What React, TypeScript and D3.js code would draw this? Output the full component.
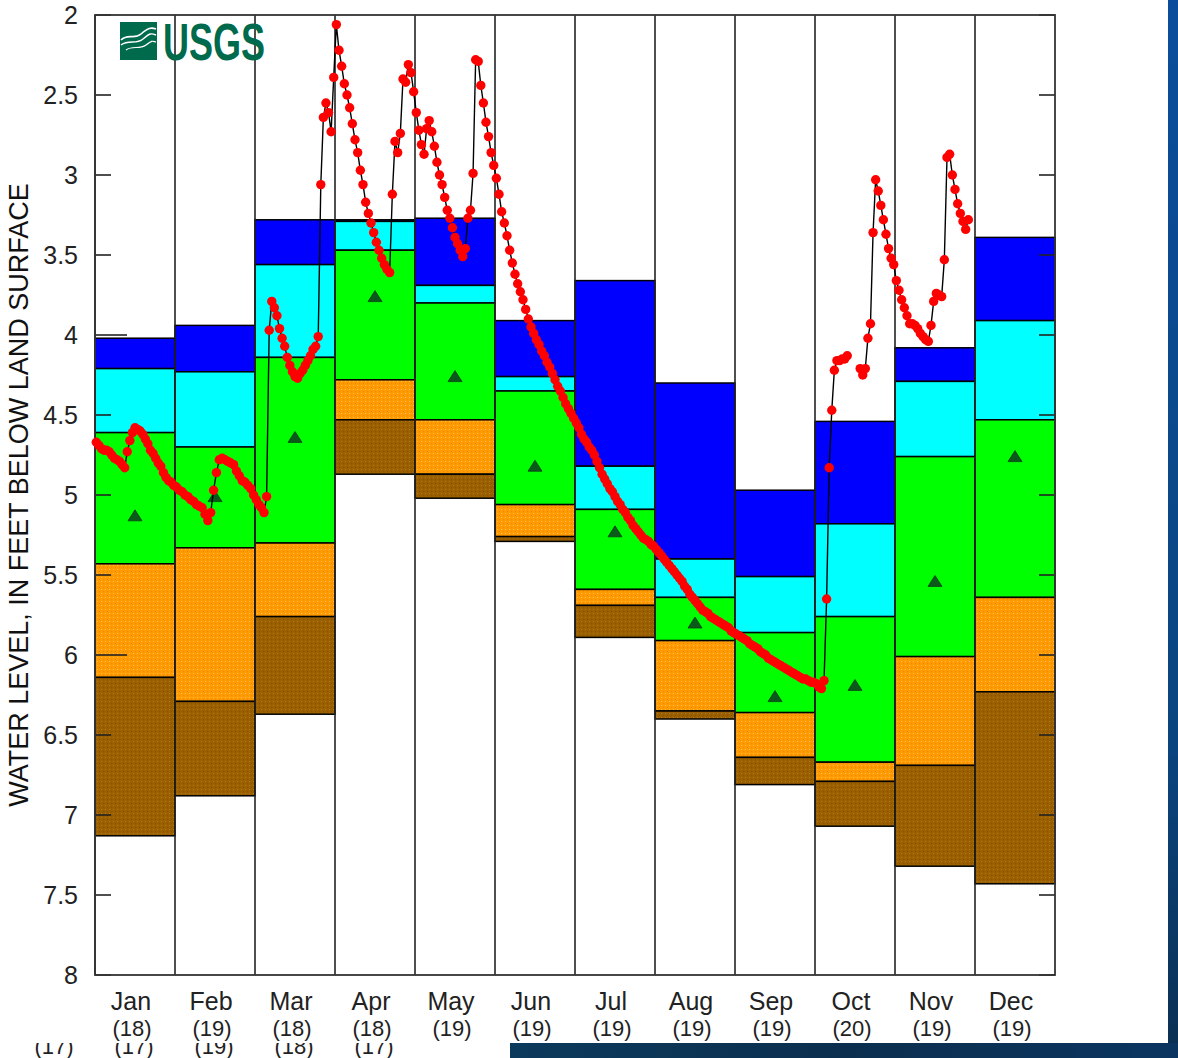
import * as d3 from "d3";

const WIDTH = 1178;
const HEIGHT = 1058;
const MARGIN = { top: 15, right: 123, bottom: 83, left: 95 };
const FONT = "'Liberation Sans', Arial, sans-serif";

// Month labels and number of years of record
const MONTHS = ["Jan", "Feb", "Mar", "Apr", "May", "Jun", "Jul", "Aug", "Sep", "Oct", "Nov", "Dec"];
const YEARS_OF_RECORD = ["(18)", "(19)", "(18)", "(18)", "(19)", "(19)", "(19)", "(19)", "(19)", "(20)", "(19)", "(19)"];
// Half-hidden row of counts peeking in under the picture
const HIDDEN_COUNTS = ["(17)", "(17)", "(19)", "(18)", "(17)"];
const DAYS_IN_MONTH = [31, 28, 31, 30, 31, 30, 31, 31, 30, 31, 30, 31];

// Monthly statistics, feet below land surface
const HIGHEST = [4.02, 3.94, 3.28, 3.28, 3.27, 3.91, 3.66, 4.30, 4.97, 4.54, 4.08, 3.39];
const P90 = [4.21, 4.23, 3.56, 3.29, 3.69, 4.26, 4.82, 5.40, 5.51, 5.18, 4.29, 3.91];
const P75 = [4.61, 4.70, 4.14, 3.47, 3.80, 4.35, 5.09, 5.64, 5.86, 5.76, 4.76, 4.53];
const P25 = [5.43, 5.33, 5.30, 4.28, 4.53, 5.06, 5.59, 5.91, 6.36, 6.67, 6.01, 5.64];
const P10 = [6.14, 6.29, 5.76, 4.53, 4.87, 5.26, 5.69, 6.35, 6.64, 6.79, 6.69, 6.23];
const LOWEST = [7.13, 6.88, 6.37, 4.87, 5.02, 5.29, 5.89, 6.40, 6.81, 7.07, 7.32, 7.43];
const MEDIAN = [5.13, 5.01, 4.64, 3.76, 4.26, 4.82, 5.23, 5.80, 6.26, 6.19, 5.54, 4.76];

// Daily water levels for the current year
const JAN = [4.67, 4.69, 4.71, 4.72, 4.72, 4.73, 4.75, 4.77, 4.78, 4.79, 4.81, 4.83, 4.73, 4.66, 4.61, 4.58, 4.59, 4.60, 4.62, 4.65, 4.68, 4.72, 4.74, 4.77, 4.80, 4.82, 4.86, 4.89, 4.91, 4.92, 4.94];
const FEB = [4.95, 4.97, 4.98, 5.00, 5.01, 5.03, 5.04, 5.06, 5.07, 5.08, 5.12, 5.16, 5.11, 4.97, 4.86, 4.78, 4.77, 4.78, 4.79, 4.80, 4.81, 4.85, 4.88, 4.91, 4.92, 4.94, 4.96, 5.00];
const MAR = [5.03, 5.06, 5.08, 5.11, 5.01, 3.97, 3.79, 3.83, 3.88, 3.96, 4.02, 4.07, 4.14, 4.19, 4.23, 4.26, 4.27, 4.24, 4.22, 4.19, 4.16, 4.13, 4.09, 4.07, 4.01, 3.06, 2.64, 2.55, 2.61, 2.73, 2.39];
const APR = [2.06, 2.22, 2.32, 2.43, 2.50, 2.58, 2.68, 2.78, 2.86, 2.97, 3.06, 3.17, 3.24, 3.30, 3.36, 3.42, 3.47, 3.52, 3.56, 3.59, 3.61, 3.12, 2.79, 2.86, 2.74, 2.40, 2.42, 2.31, 2.36, 2.48];
const MAY = [2.61, 2.72, 2.81, 2.87, 2.71, 2.66, 2.73, 2.82, 2.92, 3.00, 3.06, 3.14, 3.22, 3.27, 3.33, 3.39, 3.43, 3.47, 3.51, 3.46, 3.27, 3.22, 2.99, 2.28, 2.29, 2.44, 2.55, 2.67, 2.76, 2.86, 2.94];
const JUN = [3.02, 3.12, 3.23, 3.30, 3.38, 3.47, 3.55, 3.62, 3.68, 3.73, 3.78, 3.84, 3.90, 3.95, 3.99, 4.03, 4.06, 4.10, 4.13, 4.17, 4.20, 4.24, 4.28, 4.32, 4.35, 4.39, 4.43, 4.46, 4.49, 4.52];
const JUL = [4.55, 4.58, 4.62, 4.65, 4.67, 4.70, 4.72, 4.75, 4.79, 4.83, 4.87, 4.90, 4.93, 4.96, 4.98, 5.01, 5.04, 5.06, 5.09, 5.11, 5.14, 5.16, 5.19, 5.21, 5.23, 5.25, 5.27, 5.28, 5.29, 5.31, 5.32];
const AUG = [5.34, 5.36, 5.38, 5.40, 5.42, 5.44, 5.46, 5.48, 5.50, 5.52, 5.54, 5.57, 5.59, 5.62, 5.64, 5.66, 5.68, 5.70, 5.72, 5.73, 5.74, 5.76, 5.77, 5.78, 5.79, 5.80, 5.81, 5.82, 5.83, 5.85, 5.86];
const SEP = [5.87, 5.88, 5.89, 5.90, 5.91, 5.93, 5.94, 5.95, 5.96, 5.98, 5.99, 6.00, 6.02, 6.03, 6.04, 6.05, 6.06, 6.07, 6.08, 6.09, 6.10, 6.11, 6.12, 6.13, 6.14, 6.15, 6.15, 6.16, 6.17, 6.17];
const OCT = [6.18, 6.20, 6.21, 6.16, 5.65, 4.83, 4.47, 4.22, 4.16, 4.16, 4.15, 4.15, 4.13, null, null, null, null, 4.21, 4.25, 4.21, 4.02, 3.93, 3.36, 3.03, 3.10, 3.19, 3.28, 3.37, 3.46, 3.52, 3.56];
const NOV = [3.66, 3.72, 3.78, 3.83, 3.88, 3.93, 3.93, 3.94, 3.96, 3.99, 4.01, 4.03, 4.04, 3.94, 3.79, 3.74, 3.75, 3.76, 3.53, 2.89, 2.87, 3.00, 3.09, 3.18, 3.24, 3.29, 3.34, 3.28];
const DEC: (number | null)[] = [];
const DAILY: (number | null)[][] = [JAN, FEB, MAR, APR, MAY, JUN, JUL, AUG, SEP, OCT, NOV, DEC];

const Y_TICKS = [2, 2.5, 3, 3.5, 4, 4.5, 5, 5.5, 6, 6.5, 7, 7.5, 8];
const LONG_TICKS = [4, 6];

type DayPoint = { x: number; v: number | null };

export default function App() {
  const boundsWidth = WIDTH - MARGIN.left - MARGIN.right;
  const boundsHeight = HEIGHT - MARGIN.top - MARGIN.bottom;

  // Scales
  const xScale = d3.scaleBand<string>().domain(MONTHS).range([MARGIN.left, MARGIN.left + boundsWidth]);
  const yScale = d3.scaleLinear().domain([2, 8]).range([MARGIN.top, MARGIN.top + boundsHeight]);
  const bw = xScale.bandwidth();
  const top = MARGIN.top;
  const bottom = MARGIN.top + boundsHeight;
  const left = MARGIN.left;
  const right = MARGIN.left + boundsWidth;

  const dayX = (m: number, d: number) => (xScale(MONTHS[m]) as number) + ((d - 0.5) / DAYS_IN_MONTH[m]) * bw;

  const points: DayPoint[] = DAILY.flatMap((vals, m) => vals.map((v, i) => ({ x: dayX(m, i + 1), v })));

  const lineGen = d3
    .line<DayPoint>()
    .defined((p) => p.v !== null)
    .x((p) => p.x)
    .y((p) => yScale(p.v as number));

  const layers = [
    { from: HIGHEST, to: P90, fill: "#0000ff" },
    { from: P90, to: P75, fill: "#00ffff" },
    { from: P75, to: P25, fill: "#00ff00" },
    { from: P25, to: P10, fill: "url(#orangeDots)" },
    { from: P10, to: LOWEST, fill: "url(#brownDots)" },
  ];

  // Build the shapes
  const bars = MONTHS.map((m, i) => {
    const x0 = xScale(m) as number;
    return (
      <g key={m}>
        {layers.map((l, j) => (
          <rect
            key={j}
            x={x0}
            y={yScale(l.from[i])}
            width={bw}
            height={Math.max(0, yScale(l.to[i]) - yScale(l.from[i]))}
            fill={l.fill}
            stroke="#000"
            strokeWidth={1.5}
          />
        ))}
      </g>
    );
  });

  const medians = MONTHS.map((m, i) => {
    const cx = (xScale(m) as number) + bw / 2;
    const cy = yScale(MEDIAN[i]);
    return (
      <path
        key={m}
        d={`M${cx - 7},${cy + 5} L${cx},${cy - 6} L${cx + 7},${cy + 5} Z`}
        fill="#0b5a1c"
        stroke="#0a3f14"
        strokeWidth={0.8}
      />
    );
  });

  const dots = points
    .filter((p) => p.v !== null)
    .map((p, i) => <circle key={i} cx={p.x} cy={yScale(p.v as number)} r={4.7} fill="#ff0000" />);

  return (
    <svg
      width={WIDTH}
      height={HEIGHT}
      style={{ position: "absolute", left: 0, top: 0, display: "block" }}
      fontFamily={FONT}
    >
      <defs>
        <pattern id="orangeDots" width={4} height={4} patternUnits="userSpaceOnUse">
          <rect width={4} height={4} fill="#ff9a00" />
          <rect x={1} y={1} width={1} height={1} fill="#ffc060" />
          <rect x={3} y={3} width={1} height={1} fill="#f08800" />
        </pattern>
        <pattern id="brownDots" width={4} height={4} patternUnits="userSpaceOnUse">
          <rect width={4} height={4} fill="#9a6000" />
          <rect x={1} y={1} width={1} height={1} fill="#b47a2c" />
          <rect x={3} y={3} width={1} height={1} fill="#8a5200" />
        </pattern>
        <linearGradient id="sideBlue" x1="0" y1="0" x2="0" y2="1">
          <stop offset="0" stopColor="#0b4d9c" />
          <stop offset="0.7" stopColor="#0a447f" />
          <stop offset="1" stopColor="#0b2f52" />
        </linearGradient>
        <linearGradient id="bottomBlue" x1="0" y1="0" x2="1" y2="0">
          <stop offset="0" stopColor="#0c3a5c" />
          <stop offset="0.5" stopColor="#0b2e4e" />
          <stop offset="1" stopColor="#0b3560" />
        </linearGradient>
        <clipPath id="hiddenRow">
          <rect x={0} y={1043} width={510} height={20} />
        </clipPath>
      </defs>

      {/* page background */}
      <rect x={0} y={0} width={WIDTH} height={HEIGHT} fill="#ffffff" />
      <rect x={1168} y={0} width={10} height={HEIGHT} fill="url(#sideBlue)" />
      <rect x={510} y={1043} width={668} height={15} fill="url(#bottomBlue)" />

      {/* percentile bars */}
      {bars}

      {/* month separators */}
      {MONTHS.map((m) => (
        <line key={m} x1={xScale(m)} x2={xScale(m)} y1={top} y2={bottom} stroke="#222" strokeWidth={1.6} />
      ))}

      {/* y ticks, inside both edges */}
      {Y_TICKS.map((t) => (
        <g key={t}>
          <line
            x1={left}
            x2={left + (LONG_TICKS.includes(t) ? 32 : 16)}
            y1={yScale(t)}
            y2={yScale(t)}
            stroke="#222"
            strokeWidth={1.6}
          />
          <line x1={right - 16} x2={right} y1={yScale(t)} y2={yScale(t)} stroke="#222" strokeWidth={1.6} />
          <text x={78} y={yScale(t)} dy="0.36em" textAnchor="end" fontSize={25} fill="#222">
            {t}
          </text>
        </g>
      ))}

      {/* frame */}
      <rect x={left} y={top} width={boundsWidth} height={boundsHeight} fill="none" stroke="#333" strokeWidth={1.8} />

      {medians}

      {/* daily record */}
      <path d={lineGen(points) ?? ""} fill="none" stroke="#000" strokeWidth={1.4} />
      {dots}

      {/* USGS logo */}
      <g>
        <rect x={120} y={22} width={37} height={38} fill="#006a4c" />
        <path d="M121,40 C128,33 134,40 141,34 S151,27 156,29" fill="none" stroke="#ffffff" strokeWidth={1.6} />
        <path d="M121,45 C129,39 136,45 143,39 S151,33 156,35" fill="none" stroke="#ffffff" strokeWidth={1.4} />
        <path d="M126,50 C133,45 139,50 146,45 S152,41 156,42" fill="none" stroke="#ffffff" strokeWidth={1.2} />
        <text
          x={163}
          y={60}
          fontSize={52}
          fontWeight="bold"
          fontFamily="'Liberation Sans Narrow', 'Liberation Sans', Arial, sans-serif"
          fill="#006a4c"
          textLength={102}
          lengthAdjust="spacingAndGlyphs"
        >
          USGS
        </text>
      </g>

      {/* axis title */}
      <text
        transform={`translate(28, ${(top + bottom) / 2}) rotate(-90)`}
        textAnchor="middle"
        fontSize={27}
        fill="#111"
      >
        WATER LEVEL, IN FEET BELOW LAND SURFACE
      </text>

      {/* month labels and years of record */}
      {MONTHS.map((m, i) => {
        const cx = (xScale(m) as number) + bw / 2 - 4;
        return (
          <g key={m}>
            <text x={cx} y={1010} textAnchor="middle" fontSize={25} fill="#222">
              {m}
            </text>
            <text x={cx + 1} y={1036} textAnchor="middle" fontSize={22} fill="#222">
              {YEARS_OF_RECORD[i]}
            </text>
          </g>
        );
      })}

      <g clipPath="url(#hiddenRow)">
        {HIDDEN_COUNTS.map((c, i) => (
          <text
            key={i}
            x={(xScale(MONTHS[i]) as number) + bw / 2 - bw - 1}
            y={1054}
            textAnchor="middle"
            fontSize={22}
            fill="#222"
          >
            {c}
          </text>
        ))}
      </g>
    </svg>
  );
}
